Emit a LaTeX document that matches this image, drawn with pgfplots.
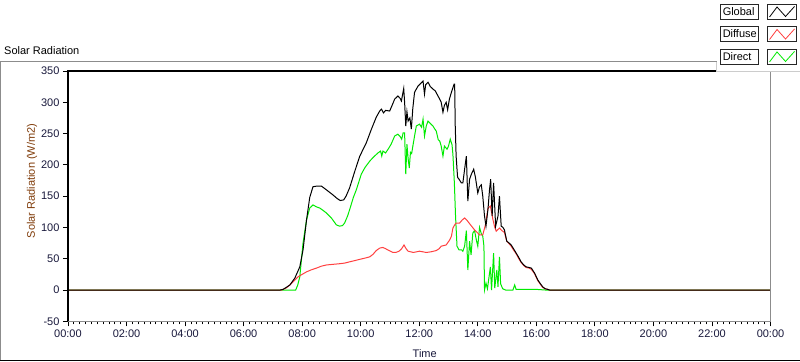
\documentclass[border=0pt]{standalone}
\usepackage{fontspec}
\setmainfont{Liberation Sans}
\usepackage{pgfplots}
\pgfplotsset{compat=1.18}
\definecolor{tickcol}{RGB}{25,25,60}
\definecolor{ylabcol}{RGB}{128,60,10}
\definecolor{diffcol}{RGB}{255,64,64}
\definecolor{dircol}{RGB}{0,235,0}
\definecolor{framegray}{RGB}{140,140,140}

\pgfplotstableread{
h v
0 0
7.25 0
7.35 1
7.45 4
7.58 8
7.75 19
7.92 37
8.03 64
8.15 112
8.26 148
8.37 165
8.5 166
8.66 166
8.83 160
9.05 152
9.2 146
9.3 143
9.42 144
9.5 150
9.62 163
9.8 190
9.97 214
10.19 235
10.35 255
10.53 276
10.65 286
10.71 289
10.78 283
10.85 287
10.99 286
11.1 298
11.16 305
11.27 310
11.35 306
11.39 302
11.47 322
11.5 300
11.54 262
11.58 285
11.62 270
11.68 275
11.73 257
11.78 290
11.84 316
11.96 326
12.05 330
12.13 334
12.18 313
12.22 328
12.30 332
12.38 325
12.47 321
12.55 318
12.64 310
12.7 305
12.75 300
12.81 284
12.86 295
12.92 300
12.97 288
13.03 305
13.10 316
13.19 329
13.21 329
13.23 262
13.26 214
13.31 180
13.36 177
13.44 171
13.49 171
13.55 193
13.61 214
13.66 142
13.72 177
13.78 185
13.86 193
13.92 180
14.0 155
14.06 165
14.12 168
14.17 150
14.23 118
14.28 102
14.35 130
14.40 160
14.44 177
14.49 118
14.54 171
14.61 102
14.65 110
14.69 118
14.74 150
14.80 102
14.86 100
14.91 96
14.99 78
15.07 75
15.14 72
15.22 66
15.31 59
15.40 52
15.48 45
15.57 40
15.65 37
15.75 36
15.83 35
15.94 27
16.05 16
16.14 10
16.22 5
16.30 2
16.39 1
16.45 0
24 0
}\globaldata

\pgfplotstableread{
h v
0 0
7.30 0
7.45 3
7.58 8
7.69 13
7.86 21
8.00 25
8.15 29
8.30 32
8.49 35
8.65 38
8.83 40
9.05 41
9.28 42
9.45 43
9.62 45
9.80 47
9.97 49
10.15 51
10.31 53
10.42 57
10.53 63
10.65 67
10.76 68
10.85 66
10.93 64
11.10 60
11.20 60
11.31 62
11.40 66
11.48 72
11.55 66
11.62 62
11.80 60
12.01 62
12.24 60
12.40 61
12.58 63
12.68 66
12.75 70
12.92 72
13.04 80
13.10 86
13.15 99
13.21 104
13.26 107
13.38 107
13.47 112
13.55 115
13.62 112
13.72 106
13.89 96
14.00 91
14.06 88
14.17 88
14.26 104
14.35 131
14.43 134
14.52 112
14.58 100
14.63 94
14.74 99
14.82 95
14.91 92
14.99 78
15.07 74
15.14 70
15.22 64
15.31 58
15.40 50
15.48 44
15.57 39
15.65 36
15.75 35
15.83 33
15.94 26
16.05 15
16.14 9
16.22 4
16.30 2
16.39 1
16.45 0
24 0
}\diffusedata

\pgfplotstableread{
h v
0 0
7.78 0
7.85 8
7.92 21
8.03 75
8.15 112
8.26 131
8.37 136
8.48 133
8.60 131
8.72 127
8.83 123
9.00 115
9.17 104
9.28 102
9.38 103
9.45 107
9.55 118
9.62 128
9.75 148
9.85 160
10.02 185
10.15 196
10.31 206
10.45 213
10.59 219
10.68 222
10.72 214
10.76 222
10.85 219
10.95 226
11.04 233
11.16 246
11.27 249
11.35 245
11.40 241
11.45 251
11.50 251
11.54 185
11.58 233
11.62 210
11.66 195
11.70 220
11.74 218
11.80 235
11.84 246
11.90 262
12.01 265
12.08 260
12.13 273
12.18 246
12.24 262
12.30 270
12.38 266
12.47 262
12.52 258
12.58 254
12.65 240
12.70 238
12.75 230
12.81 214
12.86 230
12.95 225
13.00 230
13.06 241
13.12 232
13.15 217
13.20 171
13.24 118
13.29 70
13.36 64
13.45 64
13.49 62
13.55 70
13.61 95
13.66 32
13.72 78
13.77 56
13.83 91
13.89 95
13.95 80
14.00 70
14.06 100
14.12 90
14.17 86
14.21 70
14.23 0
14.28 11
14.33 2
14.43 37
14.47 0
14.54 59
14.58 3
14.65 32
14.69 5
14.74 53
14.78 10
14.85 2
14.95 0
15.20 0
15.26 8
15.31 1
15.60 1
16.00 1
16.30 0
24 0
}\directdata

\begin{document}
\begin{tikzpicture}
\begin{scope}[x=1pt,y=1pt]
\useasboundingbox (0,0) rectangle (800,361);
\fill[white] (0,0) rectangle (800,361);
% outer panel frame
\draw[framegray, line width=1pt] (1,0) -- (1,299) -- (717,299);
\draw[black, line width=1pt] (0,0.5) -- (800,0.5);
% title
\node[anchor=base west, inner sep=0pt, font=\fontsize{11}{13}\selectfont] at (4,306) {Solar Radiation};
\end{scope}

\begin{axis}[
  at={(68pt,39.5pt)}, anchor=south west,
  scale only axis, width=703pt, height=250.5pt,
  xmin=0, xmax=24, ymin=-50, ymax=350,
  axis line style={draw=none},
  clip=false,
  xtick={0,2,...,24},
  xticklabels={00:00,02:00,04:00,06:00,08:00,10:00,12:00,14:00,16:00,18:00,20:00,22:00,00:00},
  minor x tick num=9,
  ytick={-50,0,50,...,350},
  tick align=outside,
  xtick pos=bottom, ytick pos=left,
  major tick length=5pt, minor tick length=3pt,
  tick style={black, line width=0.8pt},
  tick label style={font=\fontsize{11}{13}\selectfont, text=tickcol},
  /pgf/number format/assume math mode=true,
  /pgf/number format/1000 sep={},
]
\addplot[dircol, line width=1pt] table[x=h,y=v] {\directdata};
\addplot[diffcol, line width=1pt] table[x=h,y=v] {\diffusedata};
\addplot[black, line width=1pt] table[x=h,y=v] {\globaldata};
\draw[framegray, line width=1pt] (rel axis cs:0,0) -- (rel axis cs:1,0) -- (rel axis cs:1,1);
\draw[black, line width=1.2pt] (rel axis cs:0,0) -- (rel axis cs:0,1) -- (rel axis cs:1,1);
\end{axis}

\begin{scope}[x=1pt,y=1pt]
% axis labels
\node[font=\fontsize{11}{13}\selectfont, text=tickcol] at (425,7) {Time};
\node[rotate=90, font=\fontsize{11}{13}\selectfont, text=ylabcol] at (32,180) {Solar Radiation (W/m2)};

% legend panel
\fill[white] (717,289) rectangle (800,361);
\draw[black!20, line width=1pt] (717,299) -- (717,289) -- (800,289);
\foreach \name/\col/\dy in {Global/black/0, Diffuse/diffcol/22.5, Direct/dircol/45}{
  \draw[black!85, line width=0.9pt] (721,342-\dy) rectangle (759,357-\dy);
  \node[anchor=west, inner sep=0pt, font=\fontsize{11}{13}\selectfont] at (723,349.5-\dy) {\name};
  \draw[black!85, line width=0.9pt] (768,342-\dy) rectangle (797,357-\dy);
  \draw[\col, line width=0.8pt] (770,344-\dy) -- (777.5,354-\dy) -- (786,344.5-\dy) -- (795,354.5-\dy);
}
\end{scope}
\end{tikzpicture}
\end{document}
